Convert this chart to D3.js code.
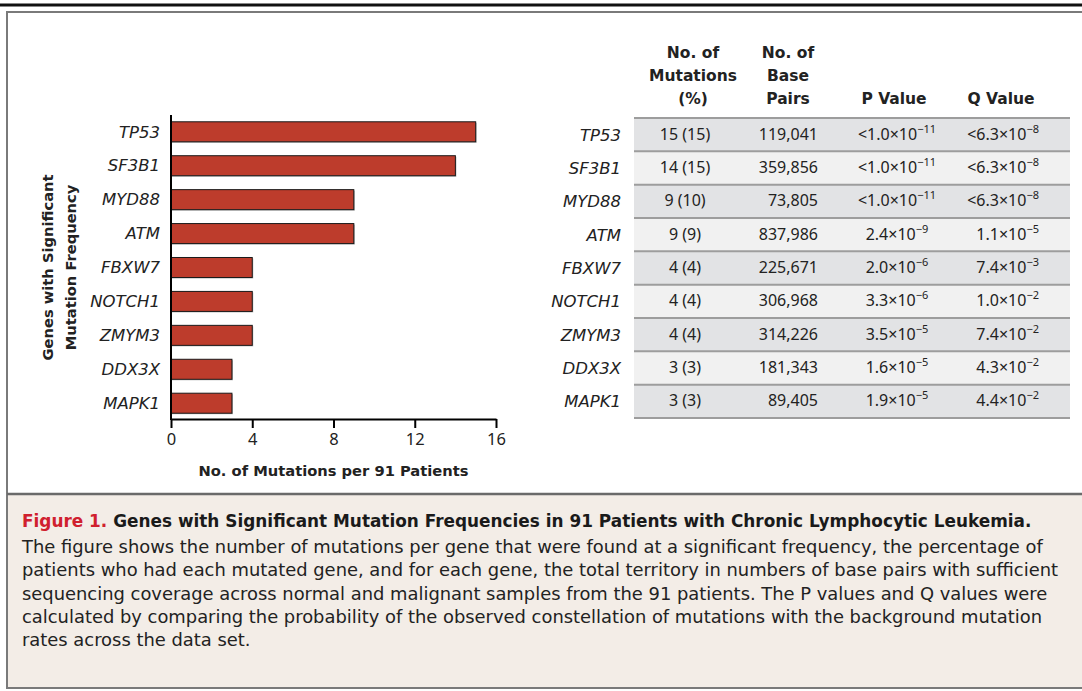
<!DOCTYPE html>
<html>
<head>
<meta charset="utf-8">
<script src="https://cdn.jsdelivr.net/npm/d3@7"></script>
<style>
  body { margin: 0; background: #fff; }
  svg { display: block; font-family: "DejaVu Sans", sans-serif; }
</style>
</head>
<body>
<div id="chart"></div>
<script>
// Data
const genes = ["TP53", "SF3B1", "MYD88", "ATM", "FBXW7", "NOTCH1", "ZMYM3", "DDX3X", "MAPK1"];
const mutations = [15, 14, 9, 9, 4, 4, 4, 3, 3];
const percents = [15, 15, 10, 9, 4, 4, 4, 3, 3];
const basePairs = [119041, 359856, 73805, 837986, 225671, 306968, 314226, 181343, 89405];
const pMantissa = ["<1.0", "<1.0", "<1.0", "2.4", "2.0", "3.3", "3.5", "1.6", "1.9"];
const pExponent = [-11, -11, -11, -9, -6, -6, -5, -5, -5];
const qMantissa = ["<6.3", "<6.3", "<6.3", "1.1", "7.4", "1.0", "7.4", "4.3", "4.4"];
const qExponent = [-8, -8, -8, -5, -3, -2, -2, -2, -2];
const xTicks = [0, 4, 8, 12, 16];
const headers = [
    ["No. of", "Mutations", "(%)"],
    ["No. of", "Base", "Pairs"],
    ["P Value"],
    ["Q Value"]
];
const captionTitle = "Genes with Significant Mutation Frequencies in 91 Patients with Chronic Lymphocytic Leukemia.";
const captionLines = [
    "The figure shows the number of mutations per gene that were found at a significant frequency, the percentage of",
    "patients who had each mutated gene, and for each gene, the total territory in numbers of base pairs with sufficient",
    "sequencing coverage across normal and malignant samples from the 91 patients. The P values and Q values were",
    "calculated by comparing the probability of the observed constellation of mutations with the background mutation",
    "rates across the data set."
];

const width = 1082;
const height = 691;
const font = "DejaVu Sans, sans-serif";
const numFont = "Noto Sans, sans-serif";

const svg = d3.select("#chart")
    .append("svg")
    .attr("width", width)
    .attr("height", height);

// frame
svg.append("line")
    .attr("x1", 0).attr("x2", width)
    .attr("y1", 5).attr("y2", 5)
    .attr("stroke", "#111").attr("stroke-width", 3);

svg.append("rect")
    .attr("x", 7).attr("y", 494)
    .attr("width", width).attr("height", 194)
    .attr("fill", "#f3ede7");

svg.append("rect")
    .attr("x", 7).attr("y", 12)
    .attr("width", width).attr("height", 676)
    .attr("fill", "none")
    .attr("stroke", "#7a7a7a").attr("stroke-width", 2);

svg.append("line")
    .attr("x1", 7).attr("x2", width)
    .attr("y1", 494).attr("y2", 494)
    .attr("stroke", "#6a6a6a").attr("stroke-width", 2.5);

// ---- Bar chart ----
const x = d3.scaleLinear().domain([0, 16]).range([171, 496]);
const y = d3.scaleBand().domain(genes).range([115, 420])
    .paddingInner(0.41).paddingOuter(0.2);

const bars = svg.append("g");

bars.selectAll(".shadow")
    .data(genes)
    .enter().append("rect")
    .attr("x", x(0))
    .attr("y", d => y(d) + 1)
    .attr("width", (d, i) => x(mutations[i]) - x(0) + 1)
    .attr("height", y.bandwidth())
    .attr("fill", "#b5b5b5");

bars.selectAll(".bar")
    .data(genes)
    .enter().append("rect")
    .attr("x", x(0))
    .attr("y", d => y(d))
    .attr("width", (d, i) => x(mutations[i]) - x(0))
    .attr("height", y.bandwidth())
    .attr("fill", "#bd3c2c")
    .attr("stroke", "#1a1a1a")
    .attr("stroke-width", 1);

bars.selectAll(".glabel")
    .data(genes)
    .enter().append("text")
    .attr("x", 160)
    .attr("y", d => y(d) + y.bandwidth() / 2)
    .attr("dy", "0.35em")
    .attr("text-anchor", "end")
    .attr("font-style", "italic")
    .attr("font-size", 16.5)
    .attr("fill", "#222")
    .text(d => d);

// axes
const xAxis = svg.append("g")
    .attr("transform", "translate(0,419)")
    .call(d3.axisBottom(x).tickValues(xTicks).tickSize(9).tickSizeOuter(0).tickPadding(5));
xAxis.attr("font-family", numFont);
xAxis.select(".domain").attr("stroke", "#000").attr("stroke-width", 2);
xAxis.selectAll(".tick line").attr("stroke", "#000").attr("stroke-width", 2);
xAxis.selectAll(".tick text")
    .attr("font-size", 16.5)
    .attr("fill", "#222");

svg.append("line")
    .attr("x1", x(0)).attr("x2", x(0))
    .attr("y1", 115).attr("y2", 420)
    .attr("stroke", "#000").attr("stroke-width", 2);

svg.append("text")
    .attr("x", (x(0) + x(16)) / 2)
    .attr("y", 476)
    .attr("text-anchor", "middle")
    .attr("font-weight", "bold")
    .attr("font-size", 14.7)
    .attr("fill", "#222")
    .text("No. of Mutations per 91 Patients");

const yTitle = svg.append("text")
    .attr("transform", `translate(0,${(y.range()[0] + y.range()[1]) / 2}) rotate(-90)`)
    .attr("text-anchor", "middle")
    .attr("font-weight", "bold")
    .attr("font-size", 14.7)
    .attr("fill", "#222");
yTitle.append("tspan").attr("x", 0).attr("y", 53).text("Genes with Significant");
yTitle.append("tspan").attr("x", 0).attr("y", 76).text("Mutation Frequency");

// ---- Table ----
const tableLeft = 634;
const tableRight = 1070;
const row = d3.scaleBand().domain(genes).range([118, 418]);

const table = svg.append("g");

table.selectAll(".rowbg")
    .data(genes)
    .enter().append("rect")
    .attr("x", tableLeft)
    .attr("y", d => row(d))
    .attr("width", tableRight - tableLeft)
    .attr("height", row.bandwidth())
    .attr("fill", (d, i) => i % 2 === 0 ? "#e2e3e5" : "#f1f1f1");

table.selectAll(".rowline")
    .data(genes.concat(["end"]))
    .enter().append("line")
    .attr("x1", tableLeft).attr("x2", tableRight)
    .attr("y1", (d, i) => row.range()[0] + i * row.step())
    .attr("y2", (d, i) => row.range()[0] + i * row.step())
    .attr("stroke", "#9d9d9d")
    .attr("stroke-width", 2);

const rowText = table.selectAll(".rowtext")
    .data(genes)
    .enter().append("g")
    .attr("transform", d => `translate(0,${row(d) + row.bandwidth() / 2 + 5})`)
    .attr("font-family", numFont)
    .attr("font-size", 16)
    .attr("fill", "#222");

rowText.append("text")
    .attr("x", 621)
    .attr("y", 1)
    .attr("text-anchor", "end")
    .attr("font-family", font)
    .attr("font-style", "italic")
    .attr("font-size", 16.5)
    .text(d => d);

rowText.append("text")
    .attr("x", 685)
    .attr("text-anchor", "middle")
    .text((d, i) => `${mutations[i]} (${percents[i]})`);

rowText.append("text")
    .attr("x", 818)
    .attr("text-anchor", "end")
    .text((d, i) => d3.format(",")(basePairs[i]));

function sci(sel, mant, expo) {
    sel.append("tspan").text((d, i) => mant[i] + "×10");
    sel.append("tspan")
        .attr("font-size", 11)
        .attr("dy", -7)
        .text((d, i) => "−" + Math.abs(expo[i]));
}

rowText.append("text")
    .attr("x", 897)
    .attr("text-anchor", "middle")
    .call(sci, pMantissa, pExponent);

rowText.append("text")
    .attr("x", 1039)
    .attr("text-anchor", "end")
    .call(sci, qMantissa, qExponent);

const headerX = [693, 788, 894, 1001];
headers.forEach((lines, c) => {
    const t = svg.append("text")
        .attr("text-anchor", "middle")
        .attr("font-weight", "bold")
        .attr("font-size", 15.5)
        .attr("fill", "#222");
    lines.forEach((ln, k) => {
        t.append("tspan")
            .attr("x", headerX[c])
            .attr("y", 104 - (lines.length - 1 - k) * 23)
            .text(ln);
    });
});

// ---- Caption ----
const cap = svg.append("text")
    .attr("x", 22).attr("y", 527)
    .attr("font-size", 16.9)
    .attr("font-weight", "bold");
cap.append("tspan").attr("fill", "#d0202e").text("Figure 1. ");
cap.append("tspan").attr("fill", "#1a1a1a").text(captionTitle);

svg.selectAll(".capline")
    .data(captionLines)
    .enter().append("text")
    .attr("x", 22)
    .attr("y", (d, i) => 553 + i * 23.3)
    .attr("font-size", 17.9)
    .attr("fill", "#222")
    .text(d => d);
</script>
</body>
</html>
